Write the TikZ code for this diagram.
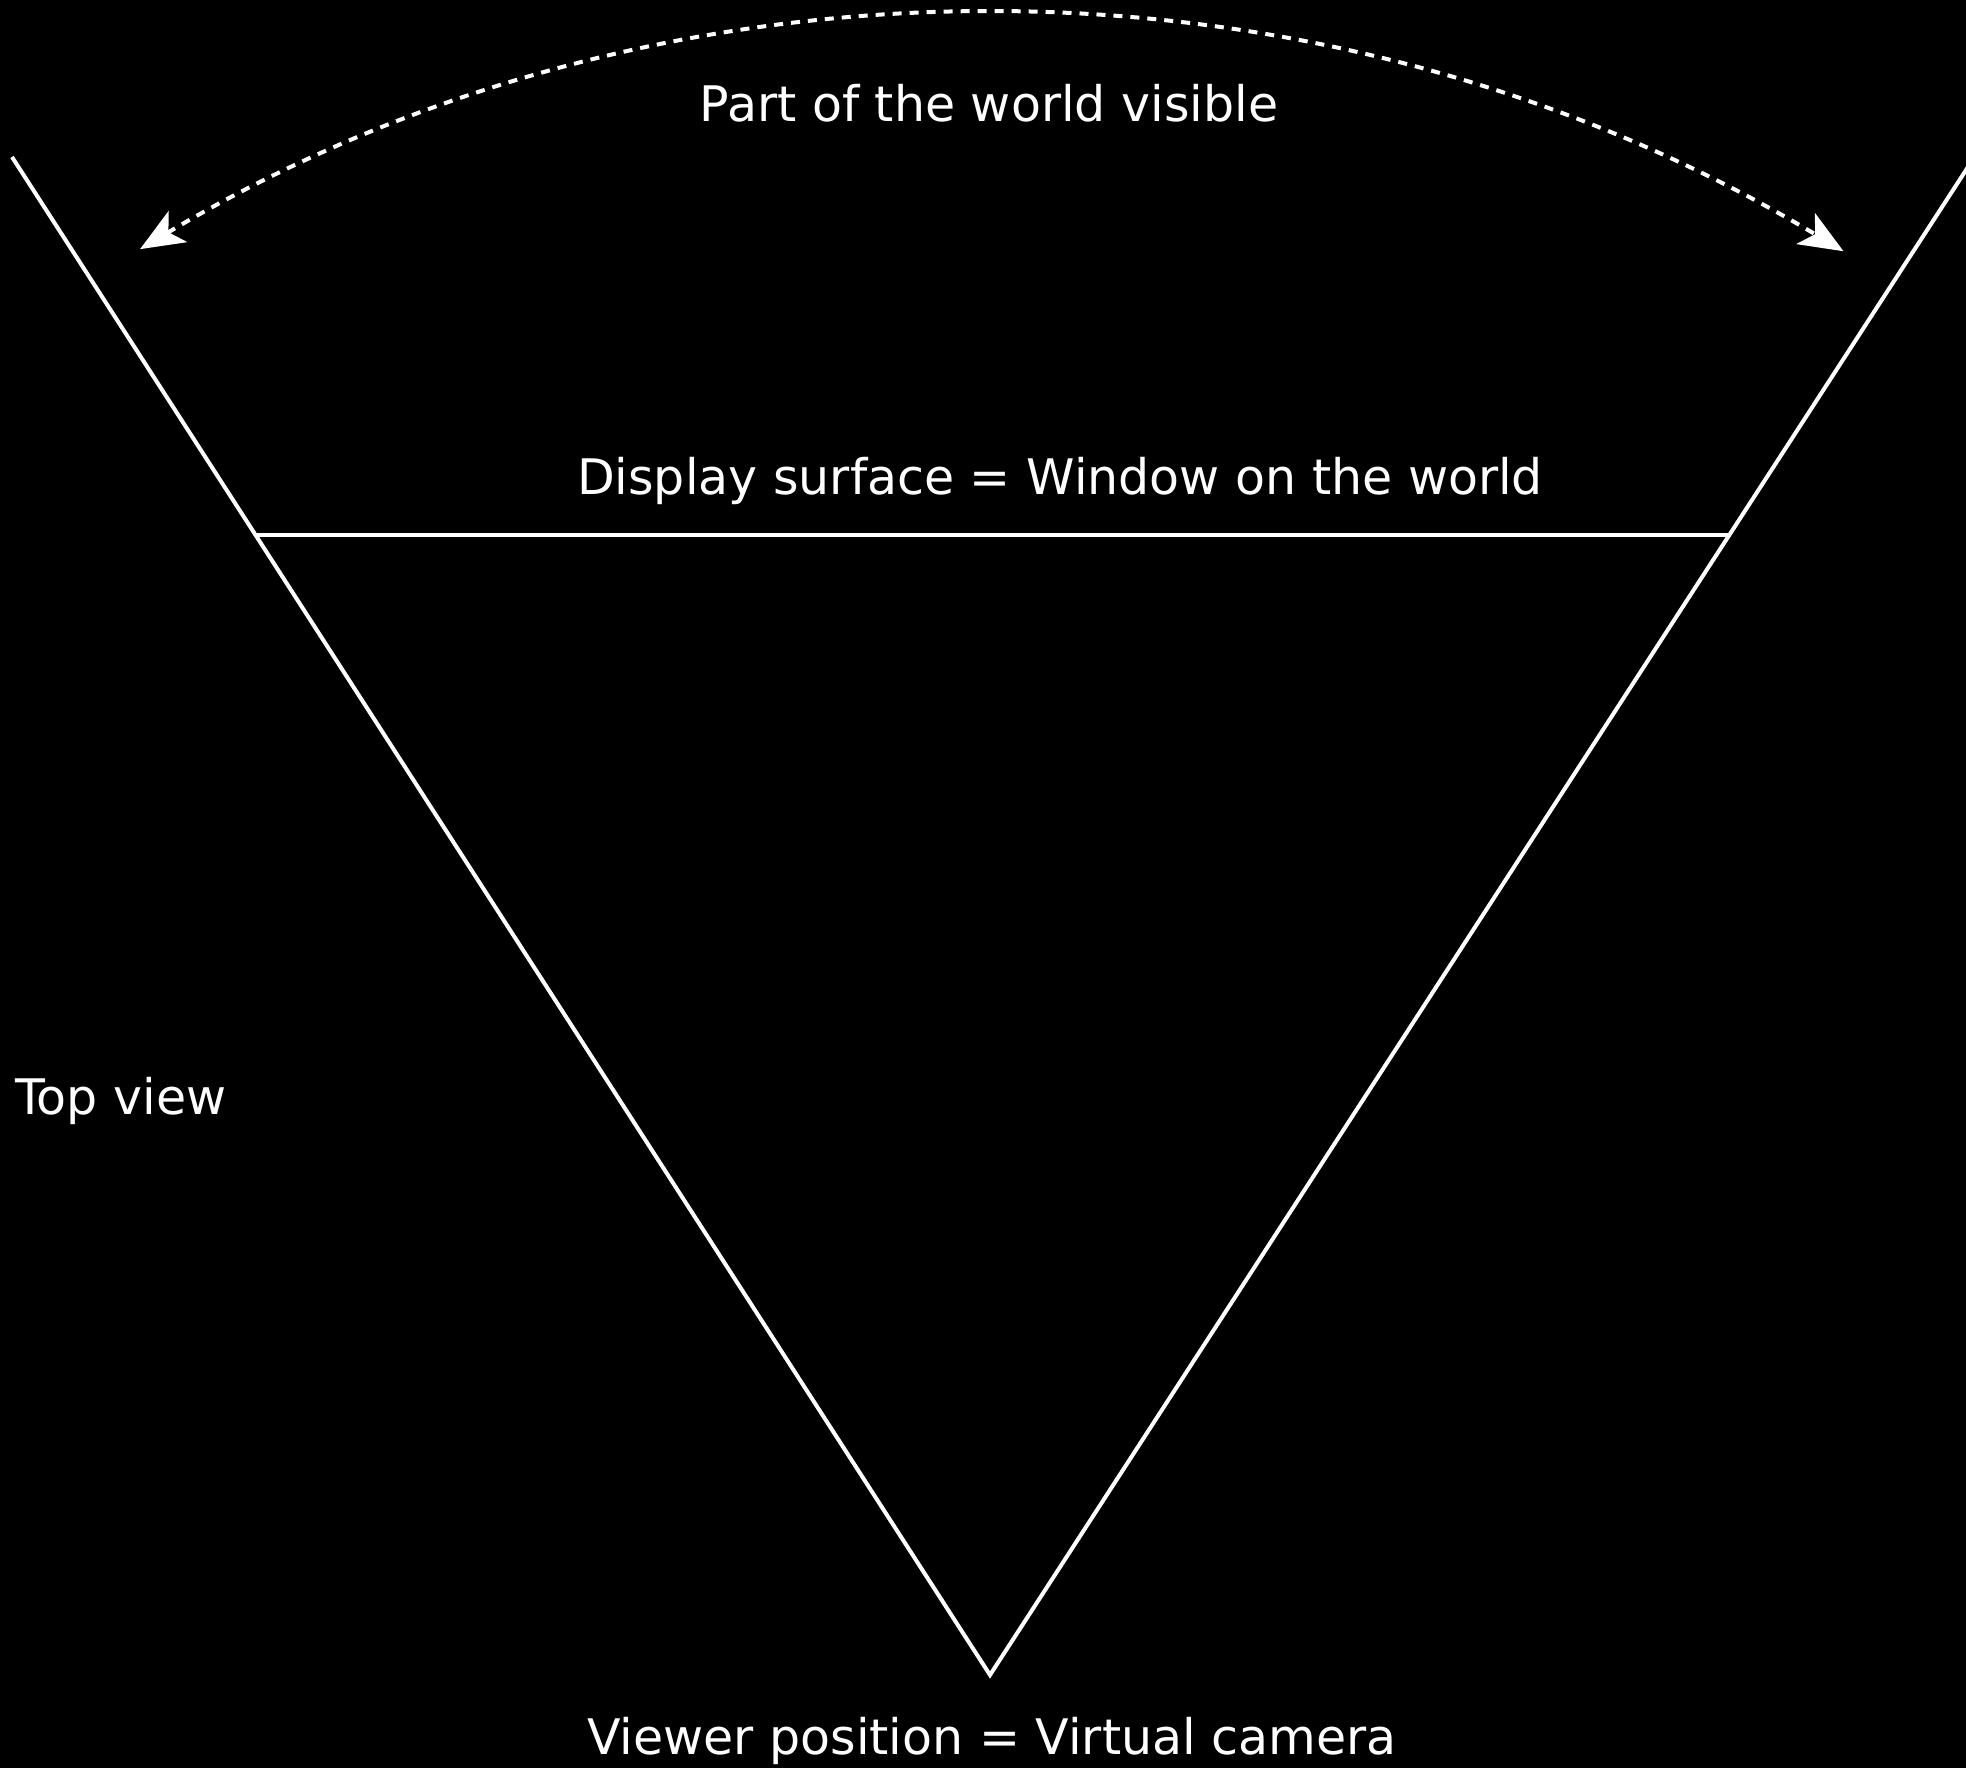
\documentclass[tikz,border=0pt]{standalone}
\usepackage{fontspec}
\setmainfont{DejaVu Sans}
\usetikzlibrary{arrows.meta}
\begin{document}
\begin{tikzpicture}[x=1pt,y=1pt,
  edge/.style={draw=white,line width=4pt,line join=miter},
  lbl/.style={text=white,font=\fontsize{49}{58}\selectfont,inner sep=0pt},
  arcarrow/.style={draw=white,line width=4pt,dash pattern=on 9pt off 8pt,
    {Stealth[length=44pt,width=36pt,inset=11pt]}-{Stealth[length=44pt,width=36pt,inset=11pt]}}]
\fill[black] (0,0) rectangle (1966,1768);
\useasboundingbox (0,0) rectangle (1966,1768);
\coordinate (apex) at (990,93);
\coordinate (lt) at (12,1611);
\coordinate (rt) at (1968,1601);
\coordinate (dl) at (255.5,1233);
\coordinate (dr) at (1729,1233);
\draw[edge] (lt) -- (apex) -- (rt);
\draw[edge] (dl) -- (dr);
\draw[arcarrow] (apex) ++(120.8:1660) coordinate (al) arc[start angle=120.8, end angle=59.06, radius=1660] coordinate (ar);
\node[lbl,anchor=base] (t1) at (989,1646) {Part of the world visible};
\node[lbl,anchor=base] (t2) at (1060,1273) {Display surface = Window on the world};
\node[lbl,anchor=base west] (t3) at (15,653) {Top view};
\node[lbl,anchor=base] (t4) at (992,13) {Viewer position = Virtual camera};
\end{tikzpicture}
\end{document}
